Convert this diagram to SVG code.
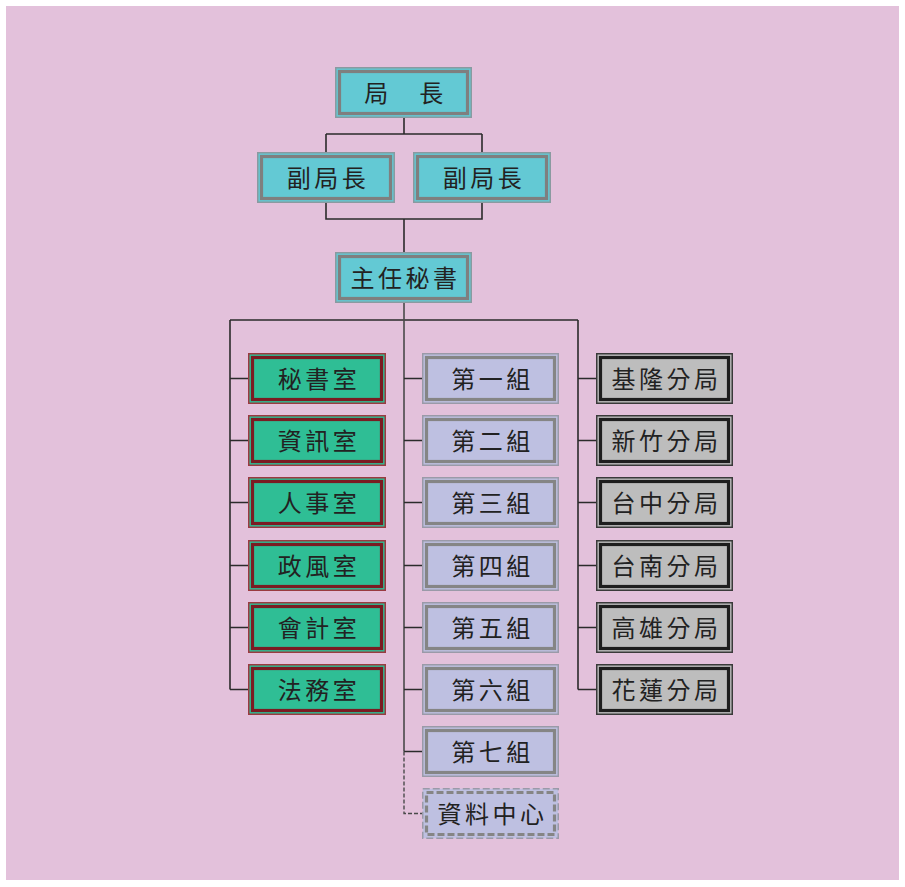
<svg xmlns="http://www.w3.org/2000/svg" width="905" height="887" viewBox="0 0 905 887">
<style>
.t{font-family:"Noto Sans CJK TC","Noto Sans CJK SC",sans-serif;font-size:24px;fill:#222;text-anchor:middle;dominant-baseline:central;letter-spacing:3.5px}
.ln{stroke:#2b2b2b;stroke-width:1.6;fill:none}
.teal .o{fill:#63C9D4;stroke:#8a9aa0;stroke-width:1.5}
.teal .i{fill:none;stroke:#7f7f7f;stroke-width:3.2}
.grn .o{fill:#2FBE95;stroke:#9a3a40;stroke-width:1.5}
.grn .i{fill:none;stroke:#7a1c22;stroke-width:3.2}
.lav .o{fill:#BEC0E1;stroke:#9a9aa8;stroke-width:1.5}
.lav .i{fill:none;stroke:#858585;stroke-width:3.2}
.gry .o{fill:#BDBDBD;stroke:#3a3a3a;stroke-width:1.5}
.gry .i{fill:none;stroke:#1e1e1e;stroke-width:3.2}
.dsh .o{fill:#BEC0E1;stroke:#9a9aa8;stroke-width:1.5;stroke-dasharray:7 3}
.dsh .i{fill:none;stroke:#858585;stroke-width:3.2;stroke-dasharray:7 3}
</style>
<rect x="0" y="0" width="905" height="887" fill="#ffffff"/>
<rect x="6" y="6" width="893" height="874" fill="#E3C1DB"/>
<g id="connectors">
<path class="ln" d="M404 118V134M326 134H482M326 134V152M482 134V152"/>
<path class="ln" d="M326 202V219H482V202M404 219V252"/>
<path class="ln" d="M230 320H578M230 320V689.5M578 320V689.5"/>
<path d="M404 303V751.5" stroke="#4a4a4a" stroke-width="1.6" fill="none"/>
<path class="ln" d="M230 378.5H248M230 440.5H248M230 502.5H248M230 565.5H248M230 627.5H248M230 689.5H248"/>
<path class="ln" d="M404 378.5H422M404 440.5H422M404 502.5H422M404 565.5H422M404 627.5H422M404 689.5H422M404 751.5H422"/>
<path class="ln" d="M578 378.5H596M578 440.5H596M578 502.5H596M578 565.5H596M578 627.5H596M578 689.5H596"/>
<path d="M404 751.5V813.5H422" stroke="#4a4a4a" stroke-width="1.4" fill="none" stroke-dasharray="4 2"/>
</g>
<g id="n-director" class="teal"><rect class="o" x="335.75" y="67.75" width="135.5" height="49.5"/><rect class="i" x="339.5" y="71.5" width="128" height="42"/><text class="t" x="405.5" y="91">局　長</text></g>
<g id="n-deputy1" class="teal"><rect class="o" x="257.75" y="152.75" width="136.5" height="49.5"/><rect class="i" x="261.5" y="156.5" width="129" height="42"/><text class="t" x="328" y="176">副局長</text></g>
<g id="n-deputy2" class="teal"><rect class="o" x="413.75" y="152.75" width="136.5" height="49.5"/><rect class="i" x="417.5" y="156.5" width="129" height="42"/><text class="t" x="484" y="176">副局長</text></g>
<g id="n-secretary" class="teal"><rect class="o" x="335.75" y="252.75" width="135.5" height="49.5"/><rect class="i" x="339.5" y="256.5" width="128" height="42"/><text class="t" x="405.5" y="276">主任秘書</text></g>

<g id="n-mishu" class="grn"><rect class="o" x="248.75" y="353.75" width="136.5" height="49.5"/><rect class="i" x="252.5" y="357.5" width="129" height="42"/><text class="t" x="319" y="377">秘書室</text></g>
<g id="n-zixun" class="grn"><rect class="o" x="248.75" y="415.75" width="136.5" height="49.5"/><rect class="i" x="252.5" y="419.5" width="129" height="42"/><text class="t" x="319" y="439">資訊室</text></g>
<g id="n-renshi" class="grn"><rect class="o" x="248.75" y="477.75" width="136.5" height="49.5"/><rect class="i" x="252.5" y="481.5" width="129" height="42"/><text class="t" x="319" y="501">人事室</text></g>
<g id="n-zhengfeng" class="grn"><rect class="o" x="248.75" y="540.75" width="136.5" height="49.5"/><rect class="i" x="252.5" y="544.5" width="129" height="42"/><text class="t" x="319" y="564">政風室</text></g>
<g id="n-kuaiji" class="grn"><rect class="o" x="248.75" y="602.75" width="136.5" height="49.5"/><rect class="i" x="252.5" y="606.5" width="129" height="42"/><text class="t" x="319" y="626">會計室</text></g>
<g id="n-fawu" class="grn"><rect class="o" x="248.75" y="664.75" width="136.5" height="49.5"/><rect class="i" x="252.5" y="668.5" width="129" height="42"/><text class="t" x="319" y="688">法務室</text></g>

<g id="n-g1" class="lav"><rect class="o" x="422.75" y="353.75" width="135.5" height="49.5"/><rect class="i" x="426.5" y="357.5" width="128" height="42"/><text class="t" x="492.5" y="377">第一組</text></g>
<g id="n-g2" class="lav"><rect class="o" x="422.75" y="415.75" width="135.5" height="49.5"/><rect class="i" x="426.5" y="419.5" width="128" height="42"/><text class="t" x="492.5" y="439">第二組</text></g>
<g id="n-g3" class="lav"><rect class="o" x="422.75" y="477.75" width="135.5" height="49.5"/><rect class="i" x="426.5" y="481.5" width="128" height="42"/><text class="t" x="492.5" y="501">第三組</text></g>
<g id="n-g4" class="lav"><rect class="o" x="422.75" y="540.75" width="135.5" height="49.5"/><rect class="i" x="426.5" y="544.5" width="128" height="42"/><text class="t" x="492.5" y="564">第四組</text></g>
<g id="n-g5" class="lav"><rect class="o" x="422.75" y="602.75" width="135.5" height="49.5"/><rect class="i" x="426.5" y="606.5" width="128" height="42"/><text class="t" x="492.5" y="626">第五組</text></g>
<g id="n-g6" class="lav"><rect class="o" x="422.75" y="664.75" width="135.5" height="49.5"/><rect class="i" x="426.5" y="668.5" width="128" height="42"/><text class="t" x="492.5" y="688">第六組</text></g>
<g id="n-g7" class="lav"><rect class="o" x="422.75" y="726.75" width="135.5" height="49.5"/><rect class="i" x="426.5" y="730.5" width="128" height="42"/><text class="t" x="492.5" y="750">第七組</text></g>
<g id="n-datacenter" class="dsh"><rect class="o" x="422.75" y="788.75" width="135.5" height="49.5"/><rect class="i" x="426.5" y="792.5" width="128" height="42"/><text class="t" x="492.5" y="812">資料中心</text></g>

<g id="n-keelung" class="gry"><rect class="o" x="596.75" y="353.75" width="135.5" height="49.5"/><rect class="i" x="600.5" y="357.5" width="128" height="42"/><text class="t" x="666.5" y="377">基隆分局</text></g>
<g id="n-hsinchu" class="gry"><rect class="o" x="596.75" y="415.75" width="135.5" height="49.5"/><rect class="i" x="600.5" y="419.5" width="128" height="42"/><text class="t" x="666.5" y="439">新竹分局</text></g>
<g id="n-taichung" class="gry"><rect class="o" x="596.75" y="477.75" width="135.5" height="49.5"/><rect class="i" x="600.5" y="481.5" width="128" height="42"/><text class="t" x="666.5" y="501">台中分局</text></g>
<g id="n-tainan" class="gry"><rect class="o" x="596.75" y="540.75" width="135.5" height="49.5"/><rect class="i" x="600.5" y="544.5" width="128" height="42"/><text class="t" x="666.5" y="564">台南分局</text></g>
<g id="n-kaohsiung" class="gry"><rect class="o" x="596.75" y="602.75" width="135.5" height="49.5"/><rect class="i" x="600.5" y="606.5" width="128" height="42"/><text class="t" x="666.5" y="626">高雄分局</text></g>
<g id="n-hualien" class="gry"><rect class="o" x="596.75" y="664.75" width="135.5" height="49.5"/><rect class="i" x="600.5" y="668.5" width="128" height="42"/><text class="t" x="666.5" y="688">花蓮分局</text></g>
</svg>
